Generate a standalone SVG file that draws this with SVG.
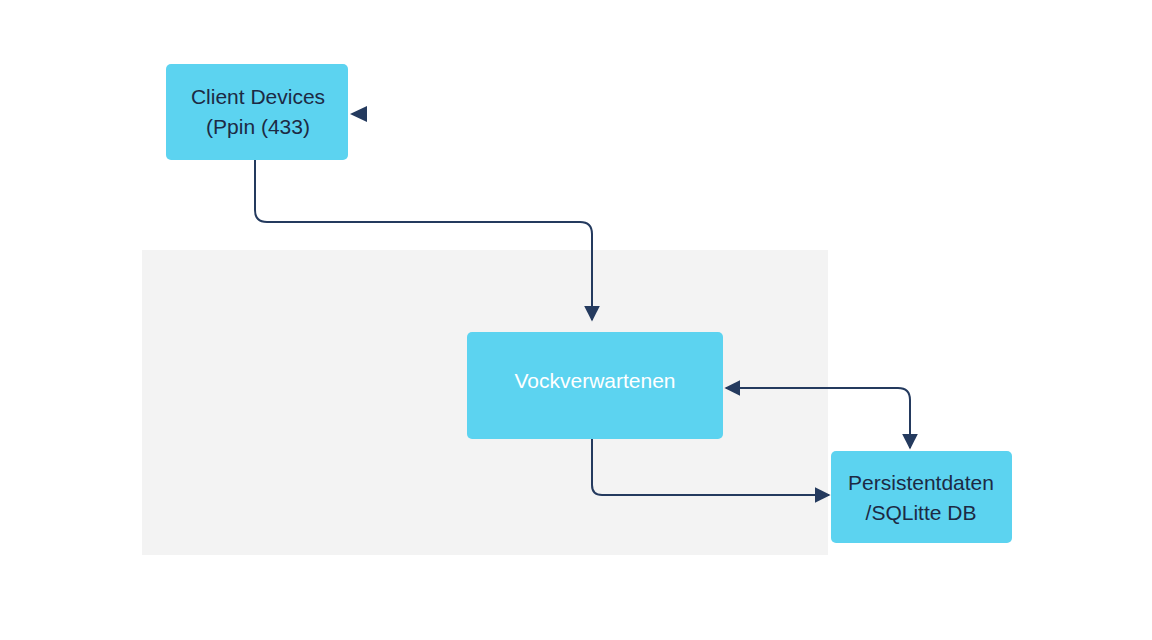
<svg xmlns="http://www.w3.org/2000/svg" width="1152" height="640" viewBox="0 0 1152 640">
<style>
.box{fill:#5cd3f0;}
.t{font-family:"Liberation Sans",Arial,sans-serif;font-size:21px;fill:#1c2a44;text-anchor:middle;}
.c{fill:none;stroke:#243a5e;stroke-width:2;}
</style>
<defs>
<marker id="a" viewBox="0 0 10 10" refX="9" refY="5" markerWidth="8" markerHeight="8" markerUnits="userSpaceOnUse" orient="auto"><path d="M0,0L10,5L0,10z" fill="#243a5e"/></marker>
<marker id="b" viewBox="0 0 10 10" refX="9" refY="5" markerWidth="16" markerHeight="16" markerUnits="userSpaceOnUse" orient="auto-start-reverse"><path d="M0,0L10,5L0,10z" fill="#243a5e"/></marker>
</defs>
<rect width="1152" height="640" fill="#fff"/>
<rect x="142" y="250" width="686" height="305" fill="#f3f3f3"/>
<g id="connectors">
<path class="c" d="M255,160V210Q255,222 267,222H580Q592,222 592,234V320" marker-end="url(#b)"/>
<path class="c" d="M726,388H898Q910,388 910,400V448" marker-start="url(#b)" marker-end="url(#b)"/>
<path class="c" d="M592,439V485Q592,495 602,495H829" marker-end="url(#b)"/>
<path d="M350,114L367,106V122z" fill="#243a5e"/>
</g>
<g id="client"><rect class="box" x="166" y="64" width="182" height="96" rx="5"/>
<text class="t" x="258" y="104">Client Devices</text><text class="t" x="258" y="134">(Ppin (433)</text></g>
<g id="vock"><rect class="box" x="467" y="332" width="256" height="107" rx="5"/>
<text class="t" x="595" y="388" style="fill:#fff">Vockverwartenen</text></g>
<g id="persist"><rect class="box" x="831" y="451" width="181" height="92" rx="5"/>
<text class="t" x="921" y="490">Persistentdaten</text><text class="t" x="921" y="520">/SQLitte DB</text></g>
</svg>
